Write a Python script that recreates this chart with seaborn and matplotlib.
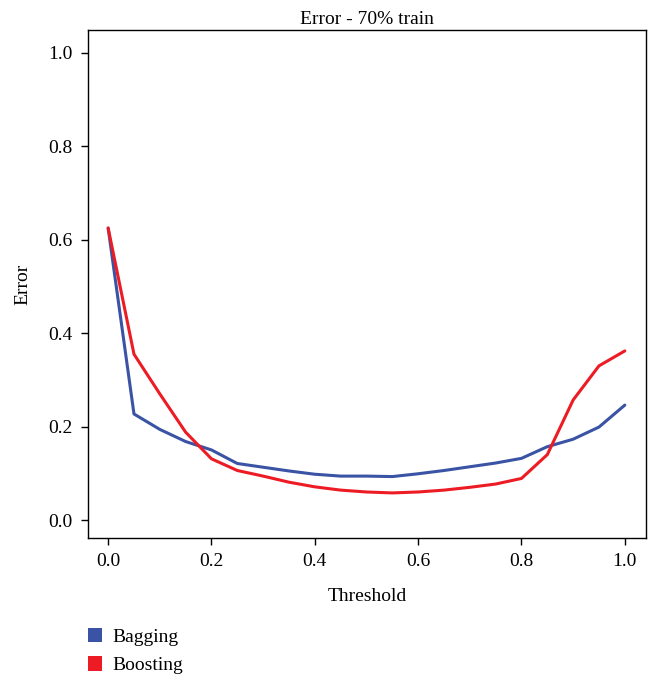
import numpy as np
import pandas as pd
import matplotlib
matplotlib.use("Agg")
import matplotlib.pyplot as plt
from matplotlib.patches import Patch
import seaborn as sns

threshold = [0.0, 0.05, 0.1, 0.15, 0.2, 0.25, 0.3, 0.35, 0.4, 0.45, 0.5,
             0.55, 0.6, 0.65, 0.7, 0.75, 0.8, 0.85, 0.9, 0.95, 1.0]
bagging = [0.625, 0.227, 0.194, 0.168, 0.150, 0.121, 0.113, 0.105, 0.098, 0.094, 0.094,
           0.093, 0.099, 0.106, 0.114, 0.122, 0.132, 0.157, 0.173, 0.199, 0.246]
boosting = [0.625, 0.355, 0.270, 0.188, 0.131, 0.106, 0.094, 0.081, 0.071, 0.064, 0.060,
            0.058, 0.060, 0.064, 0.070, 0.077, 0.089, 0.140, 0.257, 0.330, 0.362]
series_names = ["Bagging", "Boosting"]
colors = {"Bagging": "#3A53A4", "Boosting": "#ED1C24"}

df = pd.DataFrame({
    "Threshold": threshold * 2,
    "Error": bagging + boosting,
    "Method": ["Bagging"] * len(threshold) + ["Boosting"] * len(threshold),
})

sns.set_style("ticks")
plt.rcParams["font.family"] = ["Liberation Serif", "DejaVu Serif"]
plt.rcParams["text.color"] = "black"
plt.rcParams["axes.labelcolor"] = "black"
plt.rcParams["xtick.color"] = "black"
plt.rcParams["ytick.color"] = "black"

fs = 14
fig = plt.figure(figsize=(6.52, 6.76), dpi=100)
ax = fig.add_axes([88 / 652, 1 - 538 / 676, (646 - 88) / 652, (538 - 30) / 676])

sns.lineplot(data=df, x="Threshold", y="Error", hue="Method", palette=colors,
             linewidth=2.2, ax=ax, legend=False)

ax.set_xlim(-0.039, 1.041)
ax.set_ylim(-0.0385, 1.049)
ax.set_xticks([0.0, 0.2, 0.4, 0.6, 0.8, 1.0])
ax.set_yticks([0.0, 0.2, 0.4, 0.6, 0.8, 1.0])
ax.set_xticklabels(["0.0", "0.2", "0.4", "0.6", "0.8", "1.0"])
ax.set_yticklabels(["0.0", "0.2", "0.4", "0.6", "0.8", "1.0"])
ax.tick_params(axis="both", labelsize=fs, length=5, width=1, color="black", pad=6)
for s in ax.spines.values():
    s.set_color("black")
    s.set_linewidth(1.0)
ax.set_title("Error - 70% train", fontsize=fs, pad=4)
ax.set_xlabel("Threshold", fontsize=fs, labelpad=13)
ax.set_ylabel("Error", fontsize=fs, labelpad=12)

handles = [Patch(facecolor=colors[n], edgecolor="none", label=n) for n in series_names]
fig.legend(handles=handles, loc="upper left", bbox_to_anchor=(80 / 652, 1 - 620 / 676),
           frameon=False, fontsize=fs, handlelength=0.75, handleheight=0.75,
           handletextpad=0.5, labelspacing=0.55, borderaxespad=0)

fig.savefig("out.png", dpi=100)
